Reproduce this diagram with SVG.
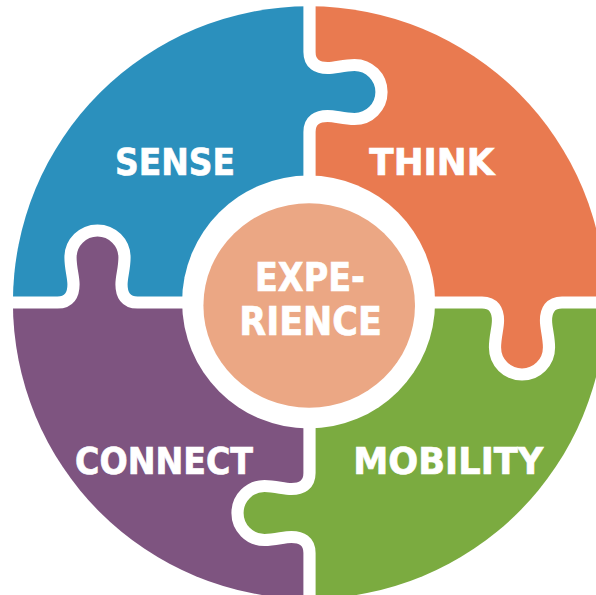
<svg xmlns="http://www.w3.org/2000/svg" width="596" height="595" viewBox="0 0 596 595">
<style>
.lbl{font-family:"DejaVu Sans","Liberation Sans",sans-serif;font-weight:bold;fill:#ffffff;stroke:#ffffff;stroke-width:0.7;text-anchor:middle}
.gap{fill:none;stroke:#ffffff;stroke-width:12.2;stroke-linejoin:round}
</style>
<defs>
<clipPath id="disk"><circle cx="309.2" cy="302.5" r="296.3"/></clipPath>
</defs>
<rect width="596" height="595" fill="#ffffff"/>
<g clip-path="url(#disk)">
<g id="sense">
<path fill="#2B90BD" d="M -10 -10 L 309.5 -10 L 309.5 52 C 309.5 64 317.5 68 327.5 68 C 335.5 68 343.5 65 354.5 65 A 27 27 0 0 1 354.5 119 C 343.5 119 335.5 116 327.5 116 C 317.5 116 309.5 120 309.5 132 L 309.5 302.5 L 137.5 302.5 C 125.5 302.5 121.5 294.5 121.5 284.5 C 121.5 276.5 124.5 268.5 124.5 257.5 A 27 27 0 0 0 70.5 257.5 C 70.5 268.5 73.5 276.5 73.5 284.5 C 73.5 294.5 69.5 302.5 57.5 302.5 L -10 302.5 Z"/>
</g>
<g id="think">
<path fill="#E97A50" d="M 309.5 -10 L 610 -10 L 610 302.5 L 562 302.5 C 550 302.5 546 310.5 546 320.5 C 546 328.5 549 336.5 549 347.5 A 27 27 0 0 1 495 347.5 C 495 336.5 498 328.5 498 320.5 C 498 310.5 494 302.5 482 302.5 L 309.5 302.5 L 309.5 132 C 309.5 120 317.5 116 327.5 116 C 335.5 116 343.5 119 354.5 119 A 27 27 0 0 0 354.5 65 C 343.5 65 335.5 68 327.5 68 C 317.5 68 309.5 64 309.5 52 Z"/>
</g>
<g id="mobility">
<path fill="#7BAB40" d="M 309.5 302.5 L 482 302.5 C 494 302.5 498 310.5 498 320.5 C 498 328.5 495 336.5 495 347.5 A 27 27 0 0 0 549 347.5 C 549 336.5 546 328.5 546 320.5 C 546 310.5 550 302.5 562 302.5 L 610 302.5 L 610 610 L 309.5 610 L 309.5 553 C 309.5 541 301.5 537 291.5 537 C 283.5 537 275.5 540 264.5 540 A 27 27 0 0 1 264.5 486 C 275.5 486 283.5 489 291.5 489 C 301.5 489 309.5 485 309.5 473 Z"/>
</g>
<g id="connect">
<path fill="#7E5480" d="M -10 302.5 L 57.5 302.5 C 69.5 302.5 73.5 294.5 73.5 284.5 C 73.5 276.5 70.5 268.5 70.5 257.5 A 27 27 0 0 1 124.5 257.5 C 124.5 268.5 121.5 276.5 121.5 284.5 C 121.5 294.5 125.5 302.5 137.5 302.5 L 309.5 302.5 L 309.5 473 C 309.5 485 301.5 489 291.5 489 C 283.5 489 275.5 486 264.5 486 A 27 27 0 0 0 264.5 540 C 275.5 540 283.5 537 291.5 537 C 301.5 537 309.5 541 309.5 553 L 309.5 610 L -10 610 Z"/>
</g>
</g>
<g id="gaps">
<path class="gap" d="M 309.5 -10 L 309.5 52 C 309.5 64 317.5 68 327.5 68 C 335.5 68 343.5 65 354.5 65 A 27 27 0 0 1 354.5 119 C 343.5 119 335.5 116 327.5 116 C 317.5 116 309.5 120 309.5 132 L 309.5 473 C 309.5 485 301.5 489 291.5 489 C 283.5 489 275.5 486 264.5 486 A 27 27 0 0 0 264.5 540 C 275.5 540 283.5 537 291.5 537 C 301.5 537 309.5 541 309.5 553 L 309.5 610"/>
<path class="gap" d="M -10 302.5 L 57.5 302.5 C 69.5 302.5 73.5 294.5 73.5 284.5 C 73.5 276.5 70.5 268.5 70.5 257.5 A 27 27 0 0 1 124.5 257.5 C 124.5 268.5 121.5 276.5 121.5 284.5 C 121.5 294.5 125.5 302.5 137.5 302.5 L 482 302.5 C 494 302.5 498 310.5 498 320.5 C 498 328.5 495 336.5 495 347.5 A 27 27 0 0 0 549 347.5 C 549 336.5 546 328.5 546 320.5 C 546 310.5 550 302.5 562 302.5 L 610 302.5"/>
</g>
<g id="experience">
<circle cx="308.6" cy="302" r="126.5" fill="#ffffff"/>
<ellipse cx="309.2" cy="305.5" rx="105.8" ry="102.3" fill="#EBA784"/>
<text class="lbl" x="310" y="290.5" font-size="39.5" textLength="110" lengthAdjust="spacingAndGlyphs">EXPE-</text>
<text class="lbl" x="310.5" y="335" font-size="39.5" textLength="142.5" lengthAdjust="spacingAndGlyphs">RIENCE</text>
</g>
<g id="labels">
<text class="lbl" x="175" y="175" font-size="37" textLength="120" lengthAdjust="spacingAndGlyphs">SENSE</text>
<text class="lbl" x="431.8" y="175" font-size="37" textLength="125" lengthAdjust="spacingAndGlyphs">THINK</text>
<text class="lbl" x="164" y="474" font-size="37" textLength="178" lengthAdjust="spacingAndGlyphs">CONNECT</text>
<text class="lbl" x="448.3" y="473.5" font-size="37" textLength="190" lengthAdjust="spacingAndGlyphs">MOBILITY</text>
</g>
</svg>
